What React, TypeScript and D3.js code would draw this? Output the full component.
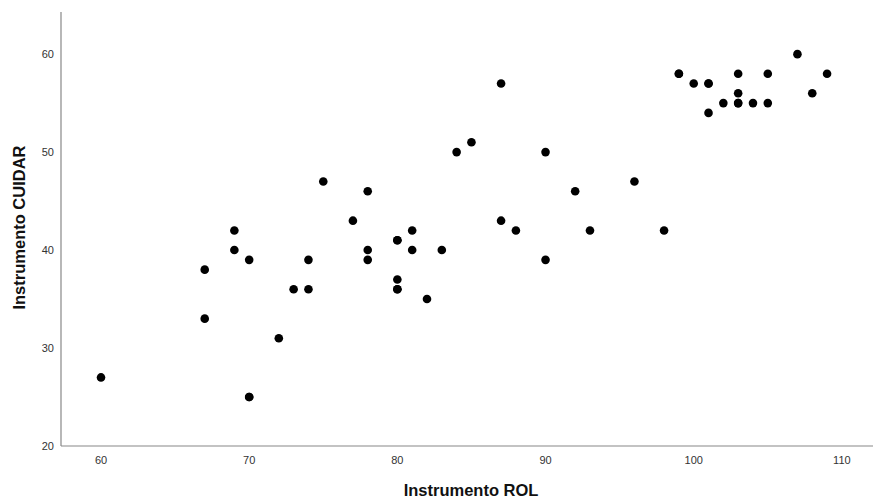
import React from "react";
import * as d3 from "d3";

// Instrumento ROL (x) / Instrumento CUIDAR (y)
const rolValues = [
  60, 67, 67, 69, 69, 70, 70, 70, 72, 73, 74, 74, 75, 77, 78, 78, 78, 80, 80,
  80, 80, 80, 81, 81, 82, 83, 84, 85, 87, 87, 88, 90, 90, 92, 93, 96, 98, 99,
  99, 100, 101, 101, 101, 102, 103, 103, 103, 103, 104, 105, 105, 107, 108,
  109,
];
const cuidarValues = [
  27, 38, 33, 42, 40, 39, 25, 25, 31, 36, 39, 36, 47, 43, 46, 40, 39, 41, 41,
  37, 36, 36, 42, 40, 35, 40, 50, 51, 57, 43, 42, 50, 39, 46, 42, 47, 42, 58,
  58, 57, 57, 57, 54, 55, 58, 56, 55, 55, 55, 58, 55, 60, 56, 58,
];
const xTicks = [60, 70, 80, 90, 100, 110];
const yTicks = [20, 30, 40, 50, 60];
const xTitle = "Instrumento ROL";
const yTitle = "Instrumento CUIDAR";

const width = 873;
const height = 500;
const margin = { top: 12, right: 0, bottom: 54, left: 61 };

export default function App() {
  const x = d3
    .scaleLinear()
    .domain([57.3, 112.1])
    .range([margin.left, width - margin.right]);
  const y = d3
    .scaleLinear()
    .domain([20, 64.3])
    .range([height - margin.bottom, margin.top]);

  const points = rolValues.map((v, i) => ({ rol: v, cuidar: cuidarValues[i] }));
  const axisColor = "#888";
  const font = "'Liberation Sans', Arial, sans-serif";

  return (
    <svg
      width={width}
      height={height}
      style={{ position: "absolute", left: 0, top: 0, background: "#fff" }}
    >
      {/* axes */}
      <line
        x1={margin.left}
        x2={margin.left}
        y1={margin.top}
        y2={height - margin.bottom}
        stroke={axisColor}
        strokeWidth={1.2}
      />
      <line
        x1={margin.left}
        x2={width - margin.right}
        y1={height - margin.bottom}
        y2={height - margin.bottom}
        stroke={axisColor}
        strokeWidth={1.2}
      />
      {xTicks.map((t) => (
        <text
          key={"x" + t}
          x={x(t)}
          y={height - margin.bottom + 18}
          textAnchor="middle"
          fontFamily={font}
          fontSize={11}
          fill="#333"
        >
          {t}
        </text>
      ))}
      {yTicks.map((t) => (
        <text
          key={"y" + t}
          x={margin.left - 7}
          y={y(t) + 4}
          textAnchor="end"
          fontFamily={font}
          fontSize={11}
          fill="#333"
        >
          {t}
        </text>
      ))}
      <text
        x={471}
        y={496}
        textAnchor="middle"
        fontFamily={font}
        fontSize={16.5}
        fontWeight="bold"
        fill="#111"
      >
        {xTitle}
      </text>
      <text
        transform={`translate(25,${(margin.top + height - margin.bottom) / 2 - 1.5}) rotate(-90)`}
        textAnchor="middle"
        fontFamily={font}
        fontSize={16.5}
        fontWeight="bold"
        fill="#111"
      >
        {yTitle}
      </text>
      {/* points */}
      {points.map((d, i) => (
        <circle key={i} cx={x(d.rol)} cy={y(d.cuidar)} r={4.3} fill="#000" />
      ))}
    </svg>
  );
}
